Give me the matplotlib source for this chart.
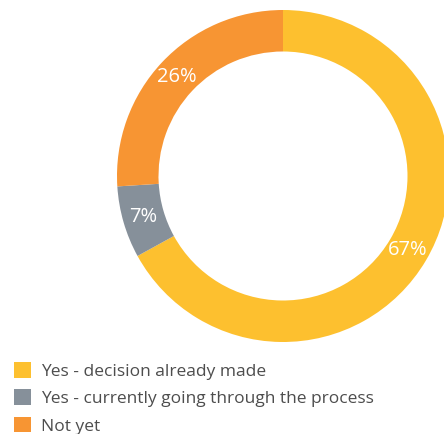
import matplotlib.pyplot as plt
from matplotlib.patches import Patch

categories = ['Yes - decision already made',
              'Yes - currently going through the process',
              'Not yet']
values = [67, 7, 26]
colors = ['#FDC02F', '#86909A', '#F79533']

plt.rcParams['font.family'] = ['Open Sans', 'DejaVu Sans']

fig = plt.figure(figsize=(4.44, 4.34), dpi=100)
W, H = 444, 434
cx, cy, r = 283, 176, 166
ax = fig.add_axes([(cx - r) / W, (H - cy - r) / H, 2 * r / W, 2 * r / H])

wedges, texts, autotexts = ax.pie(values, colors=colors, startangle=90, counterclock=False,
                                  radius=1, wedgeprops=dict(width=0.25, linewidth=0),
                                  autopct='%.0f%%', pctdistance=0.875,
                                  textprops=dict(color='white', fontsize=14.5))
ax.set_xlim(-1, 1)
ax.set_ylim(-1, 1)
ax.set_aspect('equal')
ax.axis('off')

# легенда внизу слева
handles = [Patch(facecolor=c, edgecolor='none') for c in colors]
fig.legend(handles, categories, loc='upper left', bbox_to_anchor=(14 / W, 1 - 362 / H),
           frameon=False, fontsize=12.5, labelcolor='#4D4D4D',
           handlelength=1.0, handleheight=1.0, handletextpad=0.55, labelspacing=0.56,
           borderaxespad=0, borderpad=0)

fig.savefig('out.png', dpi=100)
